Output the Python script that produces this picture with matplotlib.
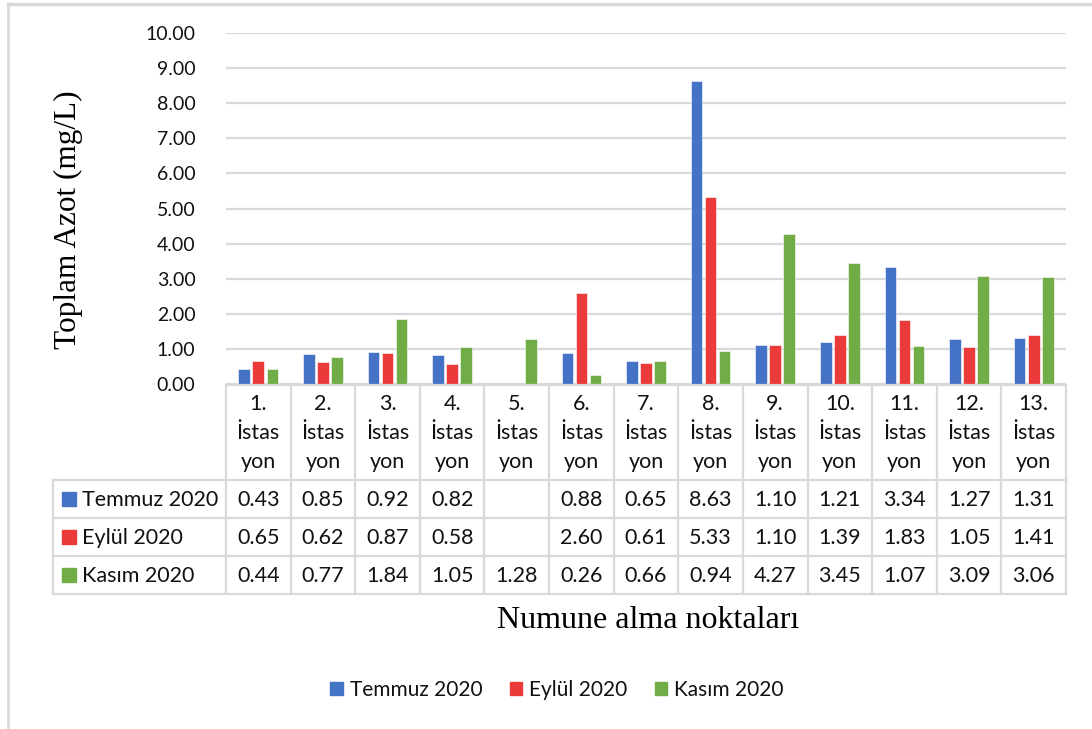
import numpy as np
import matplotlib
matplotlib.use("Agg")
import matplotlib.pyplot as plt
from matplotlib.patches import Rectangle
from matplotlib.lines import Line2D

# ---- data ----
station_no = [f"{i}." for i in range(1, 14)]
station_word = ["İstas", "yon"]
series_names = ["Temmuz 2020", "Eylül 2020", "Kasım 2020"]
temmuz = [0.43, 0.85, 0.92, 0.82, np.nan, 0.88, 0.65, 8.63, 1.10, 1.21, 3.34, 1.27, 1.31]
eylul = [0.65, 0.62, 0.87, 0.58, np.nan, 2.60, 0.61, 5.33, 1.10, 1.39, 1.83, 1.05, 1.41]
kasim = [0.44, 0.77, 1.84, 1.05, 1.28, 0.26, 0.66, 0.94, 4.27, 3.45, 1.07, 3.09, 3.06]
y_ticks = [0, 1, 2, 3, 4, 5, 6, 7, 8, 9, 10]

series = [temmuz, eylul, kasim]
colors = ["#4472C4", "#EB3A3A", "#70AD47"]
grid_c = "#D9D9D9"
txt_c = "#111111"
sans = ["Lato", "DejaVu Sans"]
serif = ["Liberation Serif", "DejaVu Serif"]
fs_tick = 14
fs_tab = 15.5

W, H = 1092, 729
fig = plt.figure(figsize=(W / 100, H / 100), dpi=100)

def fx(px):
    return px / W

def fy(py):
    return 1 - py / H

# main plot area
x0, x1 = 226, 1066
y_top, y_zero = 33, 384
ax = fig.add_axes([fx(x0), fy(y_zero), fx(x1 - x0), (y_zero - y_top) / H])
n = len(station_no)
x = np.arange(n)
bw, off = 0.18, 0.217
for k, (vals, c, name) in enumerate(zip(series, colors, series_names)):
    ax.bar(x + (k - 1) * off, vals, width=bw, color=c, edgecolor="white",
           linewidth=0.4, label=name, zorder=3)

ax.set_xlim(-0.5, n - 0.5)
ax.set_ylim(0, 10)
ax.set_yticks(y_ticks)
ax.set_yticklabels([f"{v:.2f}" for v in y_ticks], fontsize=fs_tick, family=sans,
                   color=txt_c)
ax.tick_params(axis="y", length=0, pad=22)
ax.set_xticks([])
ax.grid(axis="y", color=grid_c, linewidth=1.6, zorder=0)
for s in ax.spines.values():
    s.set_visible(False)

fig.text(fx(68), fy(220), "Toplam Azot (mg/L)", rotation=90, ha="center",
         va="center", fontsize=22.5, family=serif)

# data table below the bars, sharing the category x scale (y in pixel rows)
t_top, t_head, t_bot = 385, 480, 594
row_edges = [480, 518, 556, 594]
tax = fig.add_axes([fx(x0), fy(t_bot), fx(x1 - x0), (t_bot - t_top) / H], sharex=ax)
tax.set_ylim(t_bot, t_top)
tax.axis("off")
lw = 1.6
px_per_cat = (x1 - x0) / n
left_x = -0.5 - (x0 - 53) / px_per_cat

tax.plot([-0.5, n - 0.5], [t_top, t_top], color=grid_c, lw=lw, clip_on=False)
for yy in row_edges:
    tax.plot([left_x, n - 0.5], [yy, yy], color=grid_c, lw=lw, clip_on=False)
for i in range(n + 1):
    tax.plot([i - 0.5, i - 0.5], [t_top, t_bot], color=grid_c, lw=lw, clip_on=False)
tax.plot([left_x, left_x], [t_head, t_bot], color=grid_c, lw=lw, clip_on=False)

# header cells: number, then the wrapped word
for i, num in enumerate(station_no):
    for j, line in enumerate([num] + station_word):
        tax.text(i, 404 + 29 * j, line, ha="center", va="center", fontsize=fs_tab,
                 family=sans, color=txt_c)

# row labels and values
for r, (vals, c, name) in enumerate(zip(series, colors, series_names)):
    yc = (row_edges[r] + row_edges[r + 1]) / 2
    tax.add_patch(Rectangle((left_x + 9 / px_per_cat, yc - 7), 14 / px_per_cat, 14,
                            color=c, clip_on=False))
    tax.text(left_x + 29 / px_per_cat, yc + 1, name, ha="left", va="center",
             fontsize=fs_tab, family=sans, color=txt_c)
    for i, v in enumerate(vals):
        if not np.isnan(v):
            tax.text(i, yc + 1, f"{v:.2f}", ha="center", va="center",
                     fontsize=fs_tab, family=sans, color=txt_c)

# x axis title
fig.text(fx(648), fy(621), "Numune alma noktaları", ha="center", va="center",
         fontsize=23, family=serif)

# legend
handles = [Rectangle((0, 0), 1, 1, color=c) for c in colors]
fig.legend(handles, series_names, loc="center", bbox_to_anchor=(fx(557), fy(690)),
           ncol=3, frameon=False, prop={"family": sans, "size": 15},
           handlelength=0.6, handleheight=0.6, handletextpad=0.35,
           columnspacing=1.3, labelcolor=txt_c)

# chart frame
fig.add_artist(Line2D([fx(8), fx(8)], [fy(4), 0], color=grid_c, lw=2))
fig.add_artist(Line2D([fx(8), 1], [fy(4), fy(4)], color=grid_c, lw=2.5))

fig.savefig("out.png", dpi=100, facecolor="white")
